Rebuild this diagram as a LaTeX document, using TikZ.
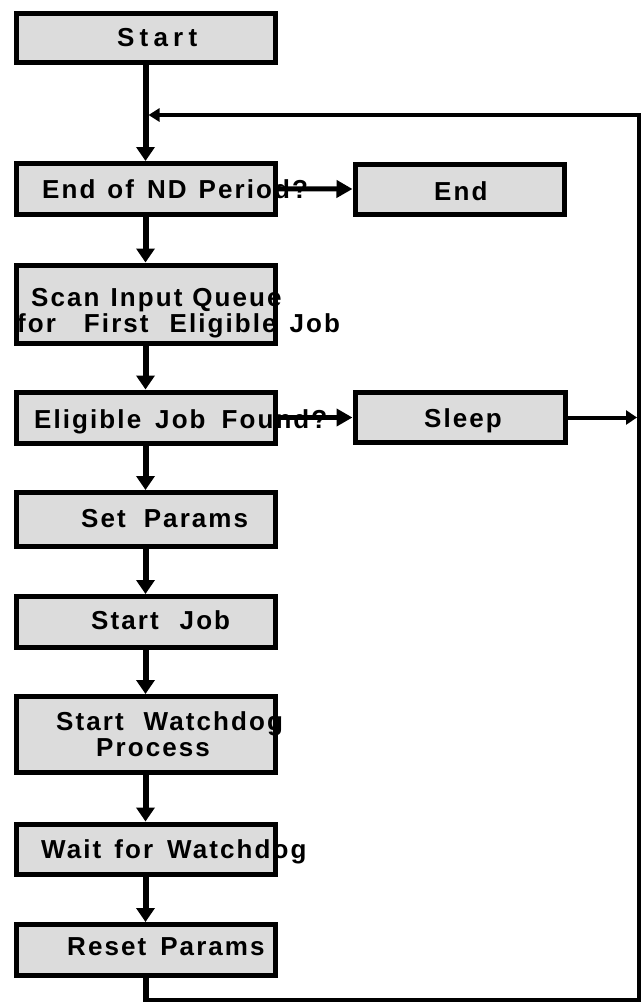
\documentclass[tikz,border=0pt]{standalone}
\usepackage{fontspec}
\setmainfont{Liberation Sans}
\newfontfamily\lblfont[LetterSpace=8]{Liberation Sans Bold}
\newfontfamily\lblwidefont[LetterSpace=20]{Liberation Sans Bold}
\usetikzlibrary{arrows.meta}
\definecolor{boxgray}{RGB}{220,220,220}
\newcommand\gp[1]{\hspace*{#1pt}}
\begin{document}
\begin{tikzpicture}[x=1pt,y=-1pt,
  box/.style={draw=black,line width=5pt,fill=boxgray,inner sep=0pt,minimum width=259pt},
  sidebox/.style={box,minimum width=209pt},
  lbl/.style={anchor=base west,inner sep=0pt,font=\lblfont\fontsize{26}{28}\selectfont},
  flow/.style={line width=6pt,-{Triangle[length=14pt,width=18pt]}},
  flowh/.style={line width=5pt,-{Triangle[length=16pt,width=17pt]}},
  loopline/.style={line width=4pt,line join=miter},
]
\useasboundingbox (0,0) rectangle (642,1002);

% boxes
\node[box,minimum height=49.5pt] (start) at (145.5,37.75) {};
\node[box,minimum height=50.5pt] (nd) at (145.5,188.75) {};
\node[sidebox,minimum height=50pt] (endb) at (459.5,189) {};
\node[box,minimum height=78pt] (scan) at (145.5,304) {};
\node[box,minimum height=51pt] (elig) at (145.5,417.5) {};
\node[sidebox,minimum width=210pt,minimum height=50pt] (sleep) at (460,417.5) {};
\node[box,minimum height=53.5pt] (setp) at (145.5,519.25) {};
\node[box,minimum height=51pt] (sjob) at (145.5,622) {};
\node[box,minimum height=76pt] (swd) at (145.5,734.5) {};
\node[box,minimum height=50.5pt] (wait) at (145.5,849.25) {};
\node[box,minimum height=51pt] (reset) at (145.5,950) {};

% texts
\node[lbl,font=\lblwidefont\fontsize{26}{28}\selectfont] (tstart) at (117,46) {Start};
\node[lbl] (tnd) at (42,198) {End\gp{12}of\gp{13}ND\gp{12}Period?};
\node[lbl] (tend) at (434,200) {End};
\node[lbl] (tscan1) at (31,306) {Scan\gp{11}Input\gp{10}Queue};
\node[lbl] (tscan2) at (17,332) {for\gp{28}First\gp{21}Eligible\gp{13}Job};
\node[lbl] (telig) at (34,428) {Eligible\gp{14}Job\gp{16}Found?};
\node[lbl] (tsleep) at (424,427) {Sleep};
\node[lbl] (tsetp) at (81,527) {Set\gp{18}Params};
\node[lbl] (tsjob) at (91,629) {Start\gp{21}Job};
\node[lbl] (tswd1) at (56,730) {Start\gp{20}Watchdog};
\node[lbl] (tswd2) at (96,756) {Process};
\node[lbl] (twait) at (41,858) {Wait\gp{13}for\gp{14}Watchdog};
\node[lbl] (treset) at (67,955) {Reset\gp{14}Params};

% loop coordinates
\coordinate (lb) at (145.5,1000);
\coordinate (rb) at (639,1000);
\coordinate (rt) at (639,115);
\coordinate (lt) at (148.5,115);
\coordinate (sr) at (637,417.5);

% main flow
\draw[flow] (start.south) -- (nd.north);
\draw[flow] (nd.south) -- (scan.north);
\draw[flow] (scan.south) -- (elig.north);
\draw[flow] (elig.south) -- (setp.north);
\draw[flow] (setp.south) -- (sjob.north);
\draw[flow] (sjob.south) -- (swd.north);
\draw[flow] (swd.south) -- (wait.north);
\draw[flow] (wait.south) -- (reset.north);

% side branches
\draw[flowh] (nd.east) -- (endb.west);
\draw[flowh] (elig.east) -- (sleep.west);
\draw[line width=4pt,-{Triangle[length=11pt,width=14pt]}] (sleep.east) -- (sr);

% loop back
\draw[line width=6pt,line cap=rect] (reset.south) -- (lb);
\draw[loopline,-{Triangle[length=11pt,width=13pt]}] (lb) -- (rb) -- (rt) -- (lt);
\end{tikzpicture}
\end{document}
